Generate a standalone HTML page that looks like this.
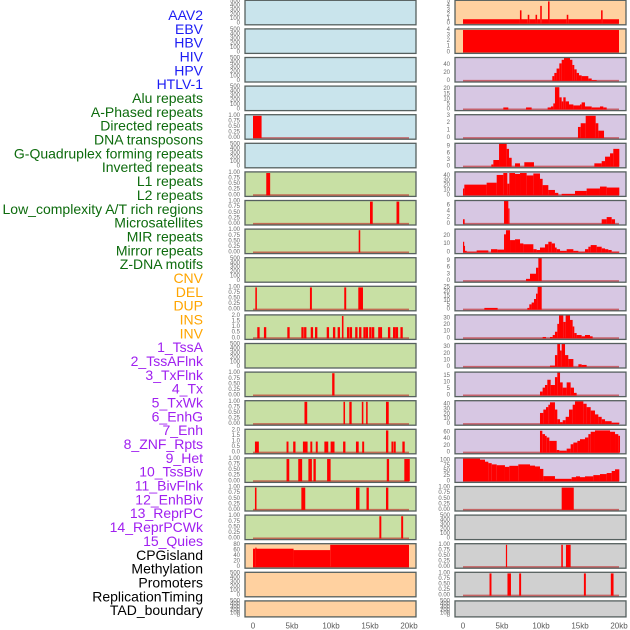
<!DOCTYPE html>
<html><head><meta charset="utf-8"><style>
html,body{margin:0;padding:0;background:#fff;}
svg{display:block;font-family:"Liberation Sans",sans-serif;}
</style></head><body>
<svg id="chart" width="630" height="630" viewBox="0 0 630 630" xmlns="http://www.w3.org/2000/svg">
<g id="labels"></g>
<g id="panels"></g>
<g id="xaxes"></g>
</svg>
<script>
// ---------- data ----------
const featureNames = ["AAV2","EBV","HBV","HIV","HPV","HTLV-1","Alu repeats","A-Phased repeats","Directed repeats","DNA transposons","G-Quadruplex forming repeats","Inverted repeats","L1 repeats","L2 repeats","Low_complexity A/T rich regions","Microsatellites","MIR repeats","Mirror repeats","Z-DNA motifs","CNV","DEL","DUP","INS","INV","1_TssA","2_TssAFlnk","3_TxFlnk","4_Tx","5_TxWk","6_EnhG","7_Enh","8_ZNF_Rpts","9_Het","10_TssBiv","11_BivFlnk","12_EnhBiv","13_ReprPC","14_ReprPCWk","15_Quies","CPGisland","Methylation","Promoters","ReplicationTiming","TAD_boundary"];
const featureGroups = ["virus","virus","virus","virus","virus","virus","repeat","repeat","repeat","repeat","repeat","repeat","repeat","repeat","repeat","repeat","repeat","repeat","repeat","sv","sv","sv","sv","sv","hmm","hmm","hmm","hmm","hmm","hmm","hmm","hmm","hmm","hmm","hmm","hmm","hmm","hmm","hmm","other","other","other","other","other"];
const xTickValues = [0,5,10,15,20];
const xTickLabels = ["0","5kb","10kb","15kb","20kb"];
const ticksEmpty = [0,100,200,300,400,500];
const ticksUnit = [0,0.25,0.5,0.75,1];
const ticksTwo = [0,0.5,1,1.5,2];

// left column panels
const segL0 = [], segL1 = [], segL2 = [], segL3 = [], segL5 = [], segL9 = [], segL12 = [], segL20 = [], segL21 = [];
const segL4 = [[0,1.1,1]];
const segL6 = [[1.7,2.2,1]];
const segL7 = [[15.0,15.35,1],[18.4,18.75,1]];
const segL8 = [[13.55,13.75,1]];
const segL10 = [[0.3,0.5,1],[7.3,7.55,1],[11.7,11.95,1],[13.5,14.1,1]];
const segL11 = [[0.55,0.85,1],[1.4,1.7,1],[4.4,4.7,1],[6.2,6.5,1],[6.55,6.85,1],[7.4,7.7,1],[7.95,8.25,1],[9.45,9.75,1],[10.25,10.55,1],[10.85,11.15,1],[11.4,11.6,2],[12.05,12.35,1],[12.4,12.7,1],[13.1,13.4,1],[13.6,13.9,1],[14.15,14.45,1],[14.45,14.75,1],[14.9,15.2,1],[15.25,15.55,1],[16.05,16.35,1],[16.35,16.55,1],[17.3,17.6,1],[17.95,18.25,1],[18.25,18.6,1],[18.9,19.2,1]];
const segL13 = [[10.15,10.45,1]];
const segL14 = [[6.6,6.95,1],[11.6,11.8,1],[12.35,12.65,1],[13.95,14.15,1],[14.5,14.7,1],[17.05,17.4,1]];
const segL15 = [[0.25,0.75,1],[4.3,4.55,1],[5.15,5.45,1],[6.4,7.0,1],[7.35,7.6,1],[8.05,8.3,1],[9.15,9.65,1],[9.95,10.45,1],[11.55,11.85,1],[13.2,13.55,1],[14.0,14.25,1],[17.05,17.35,2],[17.75,18.0,1],[18.05,18.3,1],[19.15,19.45,1]];
const segL16 = [[4.3,4.65,1],[5.8,6.3,1],[7.1,7.55,1],[7.75,8.05,1],[9.5,9.95,1],[17.15,17.45,1],[19.4,20.1,1]];
const segL17 = [[0.25,0.45,1],[6.2,6.7,1],[13.2,13.65,1],[14.55,14.85,1],[17.05,17.35,1]];
const segL18 = [[16.2,16.45,1],[19.0,19.25,1]];
const segL19 = [[0,0.3,66],[0.3,0.4,70],[0.4,5.2,66],[5.2,9.9,61],[9.9,20.0,80]];

// right column panels
const segR0 = [[0,7.3,1],[7.3,7.5,3],[7.5,8.3,1],[8.3,8.5,2],[8.5,9.3,1],[9.3,9.5,2],[9.5,9.9,1],[9.9,10.1,4],[10.1,10.9,1],[10.9,11.1,5],[11.1,13.3,1],[13.3,13.5,2],[13.5,17.7,1],[17.7,17.9,3],[17.9,20,1]];
const segR1 = [[0,20,4]];
const segR2 = [[11.45,11.71,12],[11.71,12.0,20],[12.0,12.35,31],[12.35,12.65,44],[12.65,12.95,53],[12.95,13.72,59],[13.72,14.02,53],[14.02,14.27,40],[14.27,14.57,29],[14.57,14.87,20],[14.87,15.21,14],[15.21,16.07,12],[16.07,16.5,6],[16.5,17.14,2]];
const segR3 = [[5.17,5.81,2],[8.08,8.8,2],[10.85,11.28,2],[11.28,11.58,3],[11.58,11.79,6],[11.79,12.35,22],[12.35,12.65,12],[12.65,12.86,8],[12.86,13.16,12],[13.16,13.59,8],[13.59,14.15,5],[14.15,15.0,4],[15.0,15.21,5],[15.21,15.64,7],[15.64,16.5,3],[16.5,17.56,2],[17.56,17.99,3],[17.99,18.42,2]];
const segR4 = [[14.74,15.09,1.5],[15.09,15.73,2],[15.73,17.01,3],[17.01,17.35,2],[17.35,18.08,1]];
const segR5 = [[3.63,3.89,1],[3.89,4.62,3],[4.62,5.6,11],[5.6,5.9,8],[5.9,6.24,4],[6.67,7.31,1.5],[7.86,9.1,2],[16.84,17.78,1.5],[17.78,18.21,2.5],[18.21,18.85,4.5],[18.85,19.27,6],[19.27,20.04,8]];
const segR6 = [[0,0.17,14],[0.17,3.03,22],[3.03,4.32,26],[4.32,5.17,42],[5.17,5.68,46],[5.68,5.94,24],[5.94,6.67,46],[6.67,7.31,44],[7.31,8.16,46],[8.16,9.02,41],[9.02,9.87,45],[9.87,10.21,34],[10.21,10.94,21],[10.94,11.79,11],[11.79,12.22,5],[12.65,14.36,3],[14.36,15.85,9],[15.85,17.56,14],[17.56,18.42,18],[18.42,20.04,16]];
const segR7 = [[0,0.21,1.5],[5.26,5.81,8],[5.81,5.94,5],[17.78,18.42,1.5],[18.42,19.06,2.2],[19.06,19.49,1.5]];
const segR8 = [[0,0.04,13],[0.04,0.26,8],[0.26,0.47,2],[0.47,1.75,1],[1.75,3.25,2.5],[3.59,4.4,4],[4.4,5.26,3.5],[5.26,5.51,22],[5.51,6.03,27],[6.03,6.67,15],[6.67,7.31,16],[7.31,7.74,11],[7.74,9.02,10],[9.02,9.44,4],[9.44,9.87,3],[9.87,10.51,6],[10.51,10.94,10],[10.94,11.37,13],[11.37,11.79,11],[11.79,12.01,6],[12.01,12.44,4],[12.44,13.29,2],[13.29,14.15,4],[14.15,14.79,2],[14.79,15.64,1],[15.64,16.07,4],[16.07,16.37,7],[16.37,17.14,9],[17.14,17.78,7],[17.78,18.21,5],[18.21,18.63,4],[18.63,19.06,3],[19.06,20.04,1]];
const segR9 = [[8.08,8.59,1],[8.59,9.36,3.3],[9.36,9.66,6],[9.66,10.09,11]];
const segR10 = [[2.74,4.44,2],[8.25,8.5,2],[8.5,8.8,6],[8.8,9.1,8],[9.1,9.36,12],[9.36,9.57,18],[9.57,10.09,27]];
const segR11 = [[10.21,10.64,2],[11.15,11.5,2],[11.5,11.79,5],[11.79,12.09,10],[12.09,12.31,22],[12.31,12.86,36],[12.86,13.16,25],[13.16,13.72,35],[13.72,14.06,28],[14.06,14.27,18],[14.27,14.57,8],[14.57,15.21,5],[15.21,15.64,3],[15.64,16.28,5],[16.28,16.62,3]];
const segR12 = [[11.15,11.79,2],[11.79,12.09,18],[12.09,12.44,36],[12.44,12.65,25],[12.65,13.08,36],[13.08,13.5,18],[13.5,14.15,12],[14.79,15.21,4],[15.21,15.85,3]];
const segR13 = [[9.87,10.21,3],[10.21,10.51,6],[10.51,10.81,8],[10.81,11.24,12],[11.24,11.79,8],[11.79,12.09,14],[12.09,12.44,18],[12.44,12.78,10],[12.78,13.29,6],[13.29,13.8,10],[13.8,14.23,6],[14.23,14.57,2]];
const segR14 = [[9.87,10.3,23],[10.3,10.64,30],[10.64,10.94,35],[10.94,11.15,40],[11.15,11.79,45],[11.79,12.09,30],[12.09,12.44,10],[12.44,12.78,4],[12.78,13.16,8],[13.16,13.59,15],[13.59,14.06,30],[14.06,14.36,40],[14.36,15.43,47],[15.43,15.85,42],[15.85,16.37,35],[16.37,16.92,28],[16.92,17.35,20],[17.35,17.78,15],[17.78,18.21,10],[18.21,19.06,6],[19.06,20.04,3]];
const segR15 = [[9.87,10.17,65],[10.17,10.51,55],[10.51,10.73,50],[10.73,11.07,45],[11.07,12.01,35],[12.01,12.35,8],[12.35,13.29,6],[13.29,13.8,12],[13.8,14.15,25],[14.15,14.66,30],[14.66,15.0,35],[15.0,15.64,40],[15.64,16.07,45],[16.07,16.37,55],[16.37,16.92,62],[16.92,18.85,66],[18.85,19.49,62],[19.49,19.91,55],[19.91,20.13,50]];
const segR16 = [[0,2.18,110],[2.18,2.82,105],[2.82,3.25,95],[3.25,3.68,88],[3.68,4.32,82],[4.32,5.38,78],[5.38,5.94,70],[5.94,7.09,75],[7.09,8.59,82],[8.59,9.23,76],[9.23,9.87,72],[9.87,10.3,60],[10.3,11.79,25],[11.79,13.93,12],[13.93,14.49,20],[14.49,15.0,24],[15.0,15.64,20],[15.64,16.71,24],[16.71,17.56,30],[17.56,18.42,35],[18.42,19.06,40],[19.06,19.49,50],[19.49,20.04,58]];
const segR17 = [[12.65,14.2,1]];
const segR18 = [];
const segR19 = [[5.5,5.65,1],[12.6,12.8,1],[13.2,13.8,1]];
const segR20 = [[3.4,3.65,1],[5.7,6.15,1],[7.2,7.45,1],[15.5,15.75,1],[18.95,19.3,1]];
const segR21 = [];

const panelSegs = [segL0,segL1,segL2,segL3,segL4,segL5,segL6,segL7,segL8,segL9,segL10,segL11,segL12,segL13,segL14,segL15,segL16,segL17,segL18,segL19,segL20,segL21,
  segR0,segR1,segR2,segR3,segR4,segR5,segR6,segR7,segR8,segR9,segR10,segR11,segR12,segR13,segR14,segR15,segR16,segR17,segR18,segR19,segR20,segR21];
const panelMax = [500,500,500,500,1,500,1,1,1,500,1,2,500,1,1,2,1,1,1,80,500,500,
  5,4,56,22,3,10,46,7.2,27,10,25,34,34,17,46,66,108,1,500,1,1,500];
const panelTicks = [ticksEmpty,ticksEmpty,ticksEmpty,ticksEmpty,ticksUnit,ticksEmpty,ticksUnit,ticksUnit,ticksUnit,ticksEmpty,ticksUnit,ticksTwo,ticksEmpty,ticksUnit,ticksUnit,ticksTwo,ticksUnit,ticksUnit,ticksUnit,[0,20,40,60,80],ticksEmpty,ticksEmpty,
  [0,1,2,3,4,5],[0,1,2,3,4],[0,20,40],[0,5,10,15,20],[0,1,2,3],[0,3,6,9],[0,10,20,30,40],[0,2,4,6],[0,10,20],[0,3,6,9],[0,5,10,15,20,25],[0,10,20,30],[0,10,20,30],[0,5,10,15],[0,10,20,30,40],[0,20,40,60],[0,25,50,75,100],ticksUnit,ticksEmpty,ticksUnit,ticksUnit,ticksEmpty];

// ---------- styles ----------
const NS = "http://www.w3.org/2000/svg";
const textColors = {virus:"#1c1cf4",repeat:"#0d6b0d",sv:"#ffa500",hmm:"#a020f0",other:"#000000"};
const panelBg = {virus:"#c9e4ec",repeat:"#c8e0a4",sv:"#ffd1a0",hmm:"#d7c7e3",other:"#d0d0d0"};
const colX = [245,455], panelW = 171, rowStep = 28.6, panelH = 24.5;
const kbToPx = 7.8, zeroOff = 8;

function mk(tag, attrs, parent){const e=document.createElementNS(NS,tag);for(const k in attrs)e.setAttribute(k,attrs[k]);parent.appendChild(e);return e;}
function slug(s){return s.toLowerCase().replace(/[^a-z0-9]+/g,'-').replace(/^-|-$/g,'');}
function fmtTick(v, ticks){
  if (ticks===ticksUnit) return v.toFixed(2);
  if (ticks===ticksTwo) return v.toFixed(1);
  return String(v);
}

const labelsG = document.getElementById('labels');
featureNames.forEach((n,i)=>{
  const t = mk('text',{x:203,y:15+i*13.84,'text-anchor':'end','dominant-baseline':'central','font-size':'14',fill:textColors[featureGroups[i]]},labelsG);
  t.textContent = n;
  
  
});

const panelsG = document.getElementById('panels');
const defs = mk('defs',{},panelsG);
panelSegs.forEach((segs,i)=>{
  const col = i<22?0:1, row = i%22;
  const px = colX[col];
  const py = 0.3 + row*rowStep;
  const ph = row===21 ? 16 : panelH;
  const M = panelMax[i];
  const xs = kb => px + zeroOff + kb*kbToPx;
  const ys = v => py + ph - (v + 0.05*M)/(1.1*M)*ph;
  const g = mk('g',{},panelsG);
  
  
  const cid = 'clip'+i;
  const cp = mk('clipPath',{id:cid},defs);
  mk('rect',{x:px,y:py,width:panelW,height:ph},cp);
  const bg = mk('rect',{x:px,y:py,width:panelW,height:ph,fill:panelBg[featureGroups[i]]},g);
  
  
  const marks = mk('g',{'clip-path':'url(#'+cid+')'},g);
  if (segs.length){
    const bl = mk('line',{x1:xs(0),x2:xs(20),y1:ys(0),y2:ys(0),stroke:'rgba(190,30,30,0.6)','stroke-width':2},marks);
    
    
  }
  segs.forEach(s=>{
    const x0 = xs(s[0]), x1 = xs(s[1]);
    const r = mk('rect',{x:x0,y:ys(s[2]),width:Math.max(x1-x0,1.2),height:ys(0)-ys(s[2]),fill:'#ff0000'},marks);
    
    
  });
  const border = mk('rect',{x:px,y:py,width:panelW,height:ph,fill:'none',stroke:'#56605f','stroke-width':1.3},g);
  
  
  const ticks = panelTicks[i];
  ticks.forEach(tv=>{
    const t = mk('text',{x:px-5,y:ys(tv),'text-anchor':'end','dominant-baseline':'central','font-size':'6',fill:'#6a6a6a'},g);
    t.textContent = fmtTick(tv,ticks);
    
    
  });
});

const xg = document.getElementById('xaxes');
colX.forEach((px,c)=>{
  xTickValues.forEach((v,j)=>{
    const t = mk('text',{x:px+zeroOff+v*kbToPx,y:626,'text-anchor':'middle','dominant-baseline':'central','font-size':'8',fill:'#5a5a5a'},xg);
    t.textContent = xTickLabels[j];
    
    
  });
});
</script>
</body></html>
